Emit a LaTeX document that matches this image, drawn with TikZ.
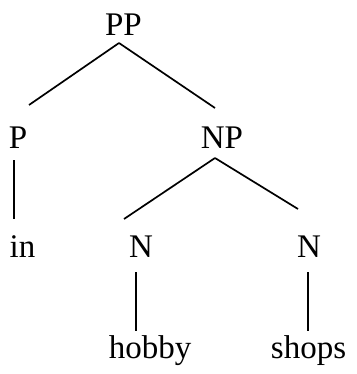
\documentclass[tikz,border=0pt]{standalone}
\usepackage{fontspec}
\setmainfont{Liberation Serif}
\usetikzlibrary{calc}
\begin{document}
\begin{tikzpicture}[x=1pt,y=-1pt,
  word/.style={inner sep=0pt,anchor=base,font=\fontsize{33}{37}\selectfont},
  branch/.style={line width=1.7pt,black}]
\useasboundingbox (0,0) rectangle (356,374);
% labels of the tree
\node[word] (PP) at (123.5,36) {PP};
\node[word] (P) at (18,149) {P};
\node[word] (NP) at (222,149) {NP};
\node[word] (in) at (22.5,257) {in};
\node[word] (N1) at (141,257) {N};
\node[word] (N2) at (309,257) {N};
\node[word] (hobby) at (150,358) {hobby};
\node[word] (shops) at (308.5,358) {shops};
% branches
\draw[branch] ($(PP.base)+(-4.5,7)$) -- ($(P.base)+(11,-44)$);
\draw[branch] ($(PP.base)+(-4.5,7)$) -- ($(NP.base)+(-7,-41)$);
\draw[branch] ($(P.base)+(-4,11)$) -- ($(in.base)+(-8.5,-38)$);
\draw[branch] ($(NP.base)+(-7,9)$) -- ($(N1.base)+(-17,-38)$);
\draw[branch] ($(NP.base)+(-7,9)$) -- ($(N2.base)+(-11,-48)$);
\draw[branch] ($(N1.base)+(-5,15)$) -- ($(hobby.base)+(-14,-27)$);
\draw[branch] ($(N2.base)+(-1,15)$) -- ($(shops.base)+(-0.5,-27)$);
\end{tikzpicture}
\end{document}
